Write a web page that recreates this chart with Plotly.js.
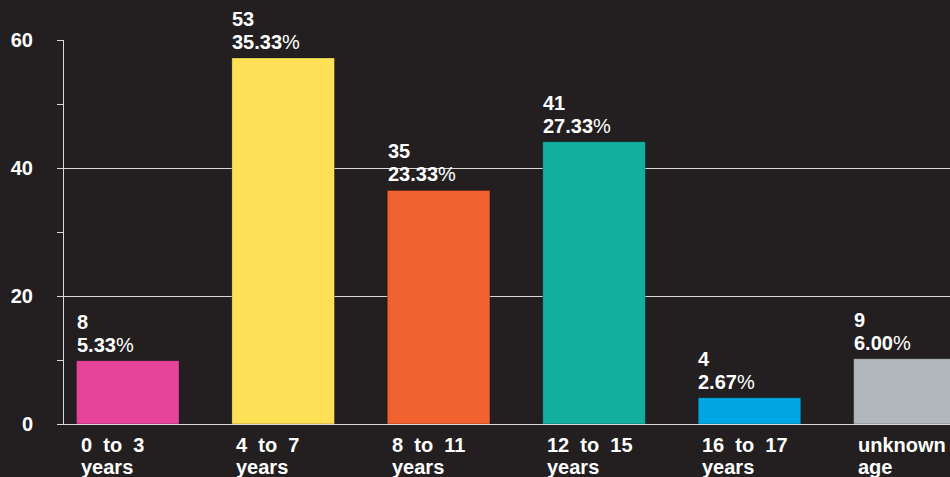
<!DOCTYPE html>
<html>
<head>
<meta charset="utf-8">
<script src="https://cdn.plot.ly/plotly-3.0.1.min.js"></script>
<style>
  html, body { margin: 0; padding: 0; background: #231f20; }
  #chart { width: 950px; height: 477px; }
</style>
</head>
<body>
<div id="chart"></div>
<script>
// data
const categories = ["0 to 3 years", "4 to 7 years", "8 to 11 years", "12 to 15 years", "16 to 17 years", "unknown age"];
const barHeights = [9.9, 57.2, 36.5, 44.1, 4.1, 10.2];   // drawn heights
const counts = ["8", "53", "35", "41", "4", "9"];
const percents = ["5.33", "35.33", "23.33", "27.33", "2.67", "6.00"];
const colors = ["#e6449a", "#ffe056", "#f26130", "#13b0a0", "#00a6e2", "#b1b6bc"];
const yTicks = [0, 10, 20, 30, 40, 50, 60];
const yTickText = ["0", "", "20", "", "40", "", "60"];
const gridVals = [20, 40];

const bg = "#231f20";
const lineCol = "#d8d8d8";
const fontFam = "Liberation Sans, Arial, sans-serif";
const halfBar = 51;   // half bar width in px (bargap 0.34 on 155px slots)

const annotations = [];
categories.forEach((c, i) => {
    // value labels, left aligned on the bar's left edge
    annotations.push({
        x: i, y: barHeights[i], xref: "x", yref: "y",
        text: "<b>" + percents[i] + "</b>%",
        xanchor: "left", yanchor: "bottom", align: "left",
        xshift: -halfBar - 1, yshift: 4, borderpad: 0,
        showarrow: false, font: { family: fontFam, size: 20, color: "#ffffff" }
    });
    annotations.push({
        x: i, y: barHeights[i], xref: "x", yref: "y",
        text: "<b>" + counts[i] + "</b>",
        xanchor: "left", yanchor: "bottom", align: "left",
        xshift: -halfBar - 1, yshift: 27, borderpad: 0,
        showarrow: false, font: { family: fontFam, size: 20, color: "#ffffff" }
    });
    // category labels, two lines
    const words = c.split(" ");
    const line2 = words.pop();
    const line1 = words.join("  ");
    [line1, line2].forEach((t, k) => {
        annotations.push({
            x: i, y: 0, xref: "x", yref: "paper",
            text: "<b>" + t + "</b>",
            xanchor: "left", yanchor: "top", align: "left",
            xshift: -halfBar + 3, yshift: -9 - k * 22, borderpad: 0,
            showarrow: false, font: { family: fontFam, size: 20, color: "#ffffff" }
        });
    });
});

const trace = {
    type: "bar",
    x: categories,
    y: barHeights,
    marker: { color: colors, line: { color: "rgba(0,0,0,0.25)", width: 1 } },
    hoverinfo: "none"
};

const layout = {
    width: 950,
    height: 477,
    margin: { l: 64, r: 0, t: 40, b: 53, pad: 0 },
    paper_bgcolor: bg,
    plot_bgcolor: bg,
    showlegend: false,
    bargap: 0.34,
    font: { family: fontFam, color: "#ffffff" },
    xaxis: {
        type: "category",
        range: [-0.41, 5.29],
        showticklabels: false,
        ticks: "",
        showgrid: false,
        zeroline: false,
        showline: true,
        linecolor: lineCol,
        linewidth: 1,
        fixedrange: true
    },
    yaxis: {
        range: [0, 60],
        tickvals: yTicks,
        ticktext: yTickText,
        ticks: "outside",
        ticklen: 6,
        tickcolor: lineCol,
        tickwidth: 1,
        ticklabelstandoff: 20,
        tickfont: { family: fontFam, size: 20, weight: "bold", color: "#ffffff" },
        showline: true,
        linecolor: lineCol,
        linewidth: 1,
        showgrid: false,
        zeroline: false,
        minor: {
            tickmode: "array",
            tickvals: gridVals,
            ticks: "",
            showgrid: true,
            gridcolor: lineCol,
            gridwidth: 1
        },
        fixedrange: true
    },
    yaxis2: {
        overlaying: "y",
        anchor: "x",
        side: "left",
        range: [0, 60],
        tickvals: yTicks,
        ticks: "inside",
        ticklen: 9,
        tickcolor: lineCol,
        tickwidth: 1,
        showticklabels: false,
        showline: false,
        showgrid: false,
        zeroline: false,
        fixedrange: true
    },
    annotations: annotations
};

Plotly.newPlot("chart", [trace], layout, { displayModeBar: false, staticPlot: true });
</script>
</body>
</html>
